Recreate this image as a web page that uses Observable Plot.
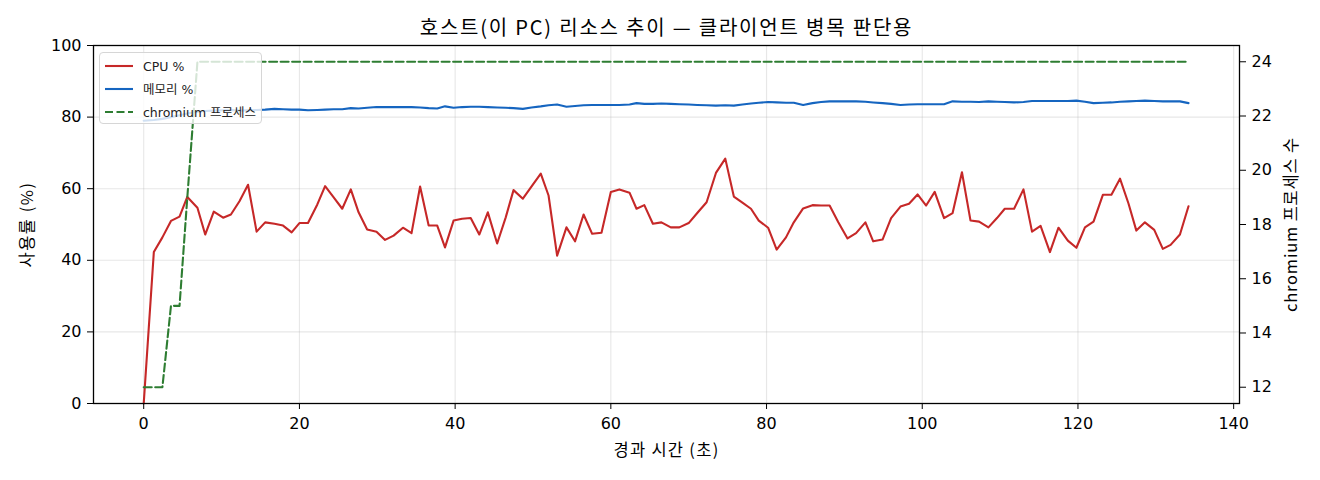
<!DOCTYPE html>
<html>
<head>
<meta charset="utf-8">
<script src="https://cdn.jsdelivr.net/npm/d3@7"></script>
<script src="https://cdn.jsdelivr.net/npm/@observablehq/plot@0.6"></script>
<style>
  html, body { margin: 0; padding: 0; background: #fff; }
  #wrap { position: relative; width: 1320px; height: 480px; font-family: 'DejaVu Sans', 'Noto Sans CJK KR', sans-serif; }
  #legend { position: absolute; left: 99px; top: 52px; width: 163px; height: 72px;
    background: rgba(255,255,255,0.8); border: 1px solid #d6d6d6; border-radius: 4px; box-sizing: border-box; }
  .entry { position: absolute; left: 0; height: 20px; display: flex; align-items: center; font-size: 12.5px; color: #222; white-space: nowrap; }
  .entry svg { margin-left: 5px; margin-right: 10px; }
</style>
</head>
<body>
<div id="wrap"></div>
<script>
const titleText = "호스트(이 PC) 리소스 추이 — 클라이언트 병목 판단용";
const xLabel = "경과 시간 (초)";
const yLabel = "사용률 (%)";
const y2Label = "chromium 프로세스 수";
const legendLabels = ["CPU %", "메모리 %", "chromium 프로세스"];
const xTicks = [0, 20, 40, 60, 80, 100, 120, 140];
const yTicks = [0, 20, 40, 60, 80, 100];
const y2Ticks = [12, 14, 16, 18, 20, 22, 24];

const times = [0, 1.3, 2.4, 3.5, 4.6, 5.6, 6.9, 7.9, 9.0, 10.2, 11.2, 12.3, 13.4, 14.5, 15.6, 16.8, 17.9, 19.0, 20.0, 21.1,
  22.3, 23.3, 24.4, 25.5, 26.6, 27.6, 28.7, 29.9, 31.0, 32.1, 33.3, 34.4, 35.5, 36.6, 37.7, 38.7, 39.8, 40.9, 42.0, 43.1,
  44.2, 45.4, 46.5, 47.5, 48.7, 49.8, 51.0, 52.0, 53.1, 54.3, 55.4, 56.5, 57.6, 58.8, 60.0, 61.1, 62.4, 63.3, 64.3, 65.4,
  66.5, 67.7, 68.8, 70.0, 71.1, 72.3, 73.5, 74.7, 75.8, 76.9, 78.0, 79.0, 80.2, 81.3, 82.5, 83.5, 84.7, 85.9, 87.0, 88.1,
  89.2, 90.4, 91.5, 92.7, 93.7, 94.9, 96.0, 97.2, 98.3, 99.4, 100.5, 101.6, 102.8, 103.9, 105.1, 106.2, 107.3, 108.5, 109.6, 110.6,
  111.8, 113.0, 114.1, 115.2, 116.4, 117.5, 118.7, 119.8, 120.9, 122.0, 123.2, 124.3, 125.4, 126.5, 127.5, 128.6, 129.8, 130.9, 131.9, 133.1,
  134.2];

const cpu = [0, 42.3, 46.4, 51.0, 52.2, 57.7, 54.7, 47.2, 53.6, 51.9, 52.8, 56.5, 61.1, 48.0, 50.6, 50.2, 49.7, 47.8, 50.4, 50.4,
  55.6, 60.7, 57.6, 54.4, 59.8, 53.4, 48.6, 48.0, 45.7, 46.9, 49.1, 47.6, 60.6, 49.7, 49.7, 43.6, 51.1, 51.6, 51.8, 47.2,
  53.4, 44.7, 52.0, 59.6, 57.2, 60.6, 64.2, 58.1, 41.3, 49.2, 45.3, 52.8, 47.4, 47.7, 59.1, 59.8, 58.9, 54.4, 55.4, 50.2,
  50.6, 49.2, 49.2, 50.4, 53.2, 56.2, 64.4, 68.4, 57.8, 56.1, 54.4, 51.1, 49.1, 43.0, 46.4, 50.6, 54.5, 55.4, 55.3, 55.3,
  50.7, 46.1, 47.6, 50.6, 45.3, 45.8, 51.8, 55.0, 55.8, 58.4, 55.3, 59.1, 51.8, 53.2, 64.6, 51.1, 50.8, 49.2, 51.8, 54.4,
  54.4, 59.8, 48.0, 49.6, 42.3, 49.1, 45.5, 43.5, 49.2, 50.8, 58.3, 58.3, 62.8, 55.8, 48.3, 50.6, 48.5, 43.2, 44.3, 47.2,
  55.1];

const memory = [79.0, 79.2, 79.5, 80.0, 80.5, 81.0, 81.5, 81.7, 81.8, 81.9, 82.0, 81.8, 81.9, 82.0, 82.1, 82.3, 82.2, 82.1, 82.1, 81.9,
  82.0, 82.1, 82.2, 82.2, 82.5, 82.4, 82.6, 82.8, 82.8, 82.8, 82.8, 82.8, 82.7, 82.5, 82.4, 83.0, 82.6, 82.8, 82.9, 82.9,
  82.8, 82.7, 82.6, 82.5, 82.3, 82.7, 83.0, 83.3, 83.5, 82.9, 83.1, 83.3, 83.4, 83.4, 83.4, 83.4, 83.5, 83.9, 83.7, 83.7,
  83.8, 83.7, 83.6, 83.5, 83.4, 83.3, 83.2, 83.3, 83.2, 83.5, 83.8, 84.0, 84.2, 84.1, 84.0, 84.0, 83.4, 83.9, 84.2, 84.4,
  84.4, 84.4, 84.4, 84.3, 84.1, 83.9, 83.7, 83.4, 83.5, 83.6, 83.6, 83.6, 83.6, 84.4, 84.3, 84.3, 84.2, 84.4, 84.3, 84.2,
  84.1, 84.2, 84.5, 84.5, 84.5, 84.5, 84.5, 84.6, 84.3, 83.9, 84.0, 84.1, 84.3, 84.4, 84.5, 84.6, 84.5, 84.4, 84.4, 84.4,
  83.9];

const chromium = [12, 12, 12, 15, 15, 19, 24, 24, 24, 24, 24, 24, 24, 24, 24, 24, 24, 24, 24, 24,
  24, 24, 24, 24, 24, 24, 24, 24, 24, 24, 24, 24, 24, 24, 24, 24, 24, 24, 24, 24,
  24, 24, 24, 24, 24, 24, 24, 24, 24, 24, 24, 24, 24, 24, 24, 24, 24, 24, 24, 24,
  24, 24, 24, 24, 24, 24, 24, 24, 24, 24, 24, 24, 24, 24, 24, 24, 24, 24, 24, 24,
  24, 24, 24, 24, 24, 24, 24, 24, 24, 24, 24, 24, 24, 24, 24, 24, 24, 24, 24, 24,
  24, 24, 24, 24, 24, 24, 24, 24, 24, 24, 24, 24, 24, 24, 24, 24, 24, 24, 24, 24,
  24];

const colors = ["#c62828", "#1565c0", "#2e7d32"];

const rows = times.map((t, i) => ({t, cpu: cpu[i], mem: memory[i], chr: chromium[i]}));

// right axis (chromium count) mapped onto left [0,100] scale
const R0 = 11.4, R1 = 24.6;
const toLeft = c => (c - R0) / (R1 - R0) * 100;
const fromLeft = v => R0 + v / 100 * (R1 - R0);

const font = "'DejaVu Sans', 'Noto Sans CJK KR', sans-serif";
const kfont = "'Noto Sans CJK KR', 'DejaVu Sans', sans-serif";

const chart = Plot.plot({
  width: 1320,
  height: 480,
  marginLeft: 93,
  marginRight: 81,
  marginTop: 45,
  marginBottom: 77,
  style: {fontFamily: font, fontSize: "16px", color: "#000", background: "#fff"},
  x: {domain: [-6.45, 140.75]},
  y: {domain: [0, 100]},
  marks: [
    Plot.gridX(xTicks, {stroke: "#b0b0b0", strokeOpacity: 0.3, strokeWidth: 1.1}),
    Plot.gridY(yTicks, {stroke: "#b0b0b0", strokeOpacity: 0.3, strokeWidth: 1.1}),
    Plot.line(rows, {x: "t", y: "cpu", stroke: colors[0], strokeWidth: 2.1}),
    Plot.line(rows, {x: "t", y: "mem", stroke: colors[1], strokeWidth: 2.1}),
    Plot.line(rows, {x: "t", y: d => toLeft(d.chr), stroke: colors[2], strokeWidth: 2.1, strokeDasharray: "8,3.5"}),
    Plot.frame({stroke: "#000", strokeWidth: 1.3}),
    Plot.axisX(xTicks, {anchor: "bottom", tickSize: 6, tickPadding: 8, label: null, fontSize: 16}),
    Plot.axisY(yTicks, {anchor: "left", tickSize: 6, tickPadding: 6, label: null, fontSize: 16}),
    Plot.axisY(y2Ticks.map(toLeft), {anchor: "right", tickSize: 6, tickPadding: 6, label: null, fontSize: 16,
      tickFormat: v => String(Math.round(fromLeft(v)))}),
    Plot.text([titleText], {frameAnchor: "top", lineAnchor: "middle", textAnchor: "middle", dy: -17, text: d => d, fontSize: 20, fontFamily: kfont, fill: "#000"}),
    Plot.text([xLabel], {frameAnchor: "bottom", lineAnchor: "middle", textAnchor: "middle", dy: 47, text: d => d, fontSize: 16.5, fontFamily: kfont, fill: "#000"}),
    Plot.text([yLabel], {frameAnchor: "left", lineAnchor: "middle", textAnchor: "middle", dx: -66, rotate: -90, text: d => d, fontSize: 16.5, fontFamily: kfont, fill: "#000"}),
    Plot.text([y2Label], {frameAnchor: "right", lineAnchor: "middle", textAnchor: "middle", dx: 52, rotate: -90, text: d => d, fontSize: 16.5, fontFamily: kfont, fill: "#000"})
  ]
});

// widen letter spacing of title and axis labels to match the reference font's spacing
const spacing = new Map([[titleText, "1.8px"], [xLabel, "1.3px"], [yLabel, "1.5px"], [y2Label, "0.8px"]]);
chart.querySelectorAll("text").forEach(t => {
  if (spacing.has(t.textContent)) t.style.letterSpacing = spacing.get(t.textContent);
});

const wrap = document.getElementById("wrap");
wrap.appendChild(chart);

const legend = document.createElement("div");
legend.id = "legend";
legendLabels.forEach((lab, i) => {
  const e = document.createElement("div");
  e.className = "entry";
  e.style.top = (3 + i * 22.8) + "px";
  const dash = i === 2 ? ' stroke-dasharray="8,3.5"' : '';
  e.innerHTML = `<svg width="28" height="6"><line x1="0" y1="3" x2="28" y2="3" stroke="${colors[i]}" stroke-width="2.1"${dash}/></svg><span></span>`;
  e.querySelector("span").textContent = lab;
  legend.appendChild(e);
});
wrap.appendChild(legend);
</script>
</body>
</html>
